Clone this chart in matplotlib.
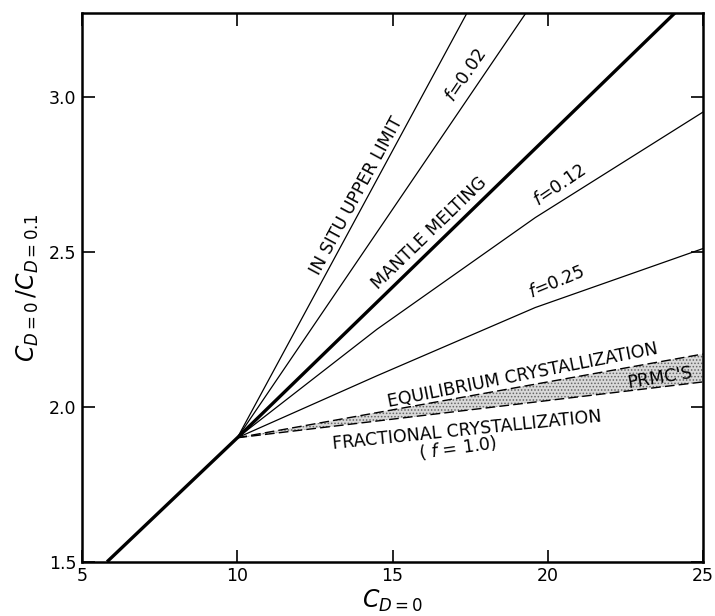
import numpy as np
import matplotlib
matplotlib.use('Agg')
import matplotlib.pyplot as plt

plt.rcParams['font.family'] = ['DejaVu Sans']
plt.rcParams['mathtext.fontset'] = 'dejavusans'

# curves (x = C_D=0, y = C_D=0 / C_D=0.1)
x_insitu = [10, 17.4]
y_insitu = [1.9, 3.27]
x_f002 = [10, 19.3]
y_f002 = [1.9, 3.27]
x_mantle = [5.8, 10, 24.1]
y_mantle = [1.5, 1.9, 3.27]
x_f012 = [10, 14.5, 19.6, 25]
y_f012 = [1.9, 2.25, 2.61, 2.95]
x_f025 = [10, 14.5, 19.6, 25]
y_f025 = [1.9, 2.10, 2.32, 2.51]
x_cryst = [10, 25]
y_equil = [1.9, 2.17]
y_frac = [1.9, 2.08]

xticks = [5, 10, 15, 20, 25]
yticks = [1.5, 2.0, 2.5, 3.0]

fig = plt.figure(figsize=(7.15, 6.16), dpi=100)
ax = fig.add_axes([0.115, 0.088, 0.868, 0.891])

ax.plot(x_insitu, y_insitu, color='k', lw=0.9)
ax.plot(x_f002, y_f002, color='k', lw=0.9)
ax.plot(x_mantle, y_mantle, color='k', lw=2.4, solid_capstyle='butt')
ax.plot(x_f012, y_f012, color='k', lw=0.9)
ax.plot(x_f025, y_f025, color='k', lw=0.9)

# PRMC's band
plt.rcParams['hatch.linewidth'] = 0.7
ax.fill_between(x_cryst, y_frac, y_equil, facecolor='0.85', hatch='.....',
                edgecolor='0.4', linewidth=0)
ax.plot(x_cryst, y_equil, color='k', lw=1.0, linestyle=(0, (7, 3)))
ax.plot(x_cryst, y_frac, color='k', lw=1.0, linestyle=(0, (7, 3)))

ax.set_xlim(5, 25)
ax.set_ylim(1.5, 3.27)
ax.set_xticks(xticks)
ax.set_yticks(yticks)
ax.set_xticklabels([str(v) for v in xticks])
ax.set_yticklabels(['%.1f' % v for v in yticks])
ax.tick_params(direction='in', top=True, right=True, length=9, width=1.2,
               labelsize=12.5, pad=4)
for s in ax.spines.values():
    s.set_linewidth(1.8)

ax.set_xlabel(r'$C_{D=0}$', fontsize=17, labelpad=2)
ax.set_ylabel(r'$C_{D=0}\,/C_{D=0.1}$', fontsize=17, labelpad=6)


def angle(xs, ys, x0, y0):
    # screen angle of the segment of (xs, ys) that holds x0
    i = max(0, min(len(xs) - 2, np.searchsorted(xs, x0) - 1))
    d = np.degrees(np.arctan2(ys[i + 1] - ys[i], xs[i + 1] - xs[i]))
    return ax.transData.transform_angles(np.array([d]), np.array([[x0, y0]]))[0]


labels = [
    ('IN SITU UPPER LIMIT', 13.85, 2.68, x_insitu, y_insitu, 0),
    (r'$f$=0.02', 17.35, 3.07, x_f002, y_f002, 0),
    ('MANTLE MELTING', 16.2, 2.56, x_mantle, y_mantle, 0),
    (r'$f$=0.12', 20.4, 2.715, x_f012, y_f012, 2),
    (r'$f$=0.25', 20.3, 2.40, x_f025, y_f025, 3),
    ('EQUILIBRIUM CRYSTALLIZATION', 19.2, 2.10, x_cryst, y_equil, 1),
    ("PRMC'S", 23.6, 2.094, x_cryst, y_equil, -1),
    ('FRACTIONAL CRYSTALLIZATION', 17.4, 1.923, x_cryst, y_frac, -1),
    (r'( $f$ = 1.0)', 17.1, 1.868, x_cryst, y_frac, 1),
]
for txt, x0, y0, xs, ys, extra in labels:
    rot = angle(xs, ys, x0, y0) + extra
    ax.text(x0, y0, txt, rotation=rot, rotation_mode='anchor',
            ha='center', va='center', fontsize=12.5)

fig.savefig('out.png', dpi=100)
